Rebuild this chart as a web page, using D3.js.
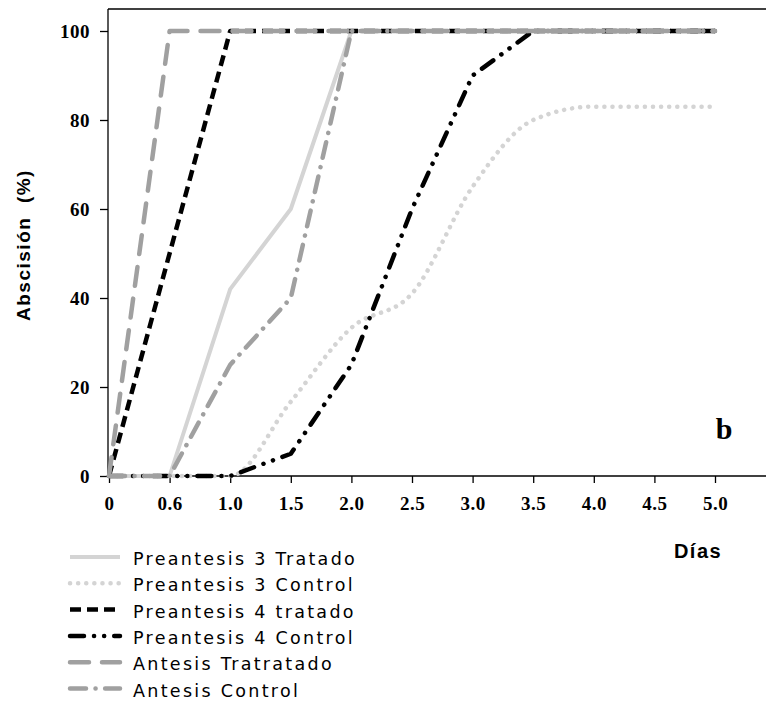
<!DOCTYPE html>
<html>
<head>
<meta charset="utf-8">
<script src="https://cdn.jsdelivr.net/npm/d3@7"></script>
<style>
  body { margin: 0; background: #fff; }
  .tick text { font-family: "Liberation Serif", "Times New Roman", serif; font-weight: bold; font-size: 19px; letter-spacing: 0.5px; }
  .sans { font-family: "Liberation Sans", Arial, sans-serif; font-weight: bold; }
  .legend text { font-family: "DejaVu Sans", Verdana, sans-serif; font-size: 17.5px; letter-spacing: 2.3px; }
</style>
</head>
<body>
<svg class="svg-main" width="766" height="709"></svg>
<script>
const svg = d3.select('.svg-main');

// days (categorical axis, as in the original)
const dias = ["0", "0.6", "1.0", "1.5", "2.0", "2.5", "3.0", "3.5", "4.0", "4.5", "5.0"];
const yTicks = [0, 20, 40, 60, 80, 100];

const pre3Tratado = [0, 0, 42, 60, 100, 100, 100, 100, 100, 100, 100];
const pre3Control = [0, 0, 0, 16.7, 33.3, 41, 65, 80, 83, 83, 83];
const pre4Tratado = [0, 50, 100, 100, 100, 100, 100, 100, 100, 100, 100];
const pre4Control = [0, 0, 0, 5, 25, 60, 90, 100, 100, 100, 100];
const antTratado  = [0, 100, 100, 100, 100, 100, 100, 100, 100, 100, 100];
const antControl  = [0, 0, 25, 40, 100, 100, 100, 100, 100, 100, 100];

const series = [
  { name: "Preantesis 3 Tratado", values: pre3Tratado, color: "#d4d4d4", dash: null, cap: "butt", w: 4, curve: d3.curveLinear },
  { name: "Preantesis 3 Control", values: pre3Control, color: "#d4d4d4", dash: "0.1,8", cap: "round", w: 4.5, curve: d3.curveMonotoneX },
  { name: "Preantesis 4 tratado", values: pre4Tratado, color: "#000", dash: "11,6", cap: "butt", w: 4.5, curve: d3.curveLinear },
  { name: "Preantesis 4 Control", values: pre4Control, color: "#000", dash: "14,10,0.1,10,0.1,10", cap: "round", w: 4.5, curve: d3.curveLinear },
  { name: "Antesis Tratratado", values: antTratado, color: "#a0a0a0", dash: "19,13", cap: "round", w: 4.5, curve: d3.curveLinear },
  { name: "Antesis Control", values: antControl, color: "#a0a0a0", dash: "16,9.5,0.1,9.5", cap: "round", w: 4.5, curve: d3.curveLinear }
];

const x = d3.scalePoint().domain(dias).range([109, 715]);
const y = d3.scaleLinear().domain([0, 100]).range([476, 31]);

// frame: top line, left axis, bottom line (plot runs off the right edge)
svg.append("line").attr("x1", 108).attr("x2", 766).attr("y1", 9).attr("y2", 9)
  .attr("stroke", "#000").attr("stroke-width", 1.3);

const xAxis = svg.append("g")
  .attr("transform", "translate(0,476)")
  .call(d3.axisBottom(x).tickSize(7).tickSizeOuter(0).tickPadding(14));
xAxis.select(".domain").remove();
xAxis.selectAll(".tick line").attr("stroke-width", 1.3);

const yAxis = svg.append("g")
  .attr("transform", "translate(108,0)")
  .call(d3.axisLeft(y).tickValues(yTicks).tickSize(8).tickSizeOuter(0).tickPadding(10));
yAxis.select(".domain").attr("d", "M0,9V476").attr("stroke-width", 1.3);
yAxis.selectAll(".tick line").attr("stroke-width", 1.3);
yAxis.selectAll(".tick text").attr("dy", "0.35em");

svg.append("line").attr("x1", 108).attr("x2", 766).attr("y1", 476).attr("y2", 476)
  .attr("stroke", "#000").attr("stroke-width", 1.3);

// lines
const lines = svg.append("g").attr("class", "lines");
series.forEach(s => {
  const line = d3.line()
    .x((d, i) => x(dias[i]))
    .y(d => y(d))
    .curve(s.curve);
  lines.append("path")
    .datum(s.values)
    .attr("d", line)
    .attr("fill", "none")
    .attr("stroke", s.color)
    .attr("stroke-width", s.w)
    .attr("stroke-linecap", s.cap)
    .attr("stroke-linejoin", "round")
    .attr("stroke-dasharray", s.dash);
});

// labels
svg.append("text")
  .attr("class", "sans")
  .attr("transform", "translate(30,245) rotate(-90)")
  .attr("text-anchor", "middle")
  .attr("font-size", 19)
  .attr("letter-spacing", 1.5)
  .style("white-space", "pre")
  .text("Abscisión  (%)");

svg.append("text")
  .attr("class", "sans")
  .attr("x", 698).attr("y", 558)
  .attr("text-anchor", "middle")
  .attr("font-size", 20)
  .attr("letter-spacing", 1.5)
  .text("Días");

svg.append("text")
  .attr("x", 724).attr("y", 439)
  .attr("text-anchor", "middle")
  .attr("font-family", "Liberation Serif, serif")
  .attr("font-weight", "bold")
  .attr("font-size", 30)
  .text("b");

// legend
const legend = svg.append("g").attr("class", "legend");
series.forEach((s, i) => {
  const ly = 557 + i * 26.3;
  legend.append("line")
    .attr("x1", 70).attr("x2", 120).attr("y1", ly).attr("y2", ly)
    .attr("stroke", s.color)
    .attr("stroke-width", s.w)
    .attr("stroke-linecap", s.cap)
    .attr("stroke-dasharray", s.dash);
  legend.append("text")
    .attr("x", 133).attr("y", ly + 8)
    .text(s.name);
});
</script>
</body>
</html>
